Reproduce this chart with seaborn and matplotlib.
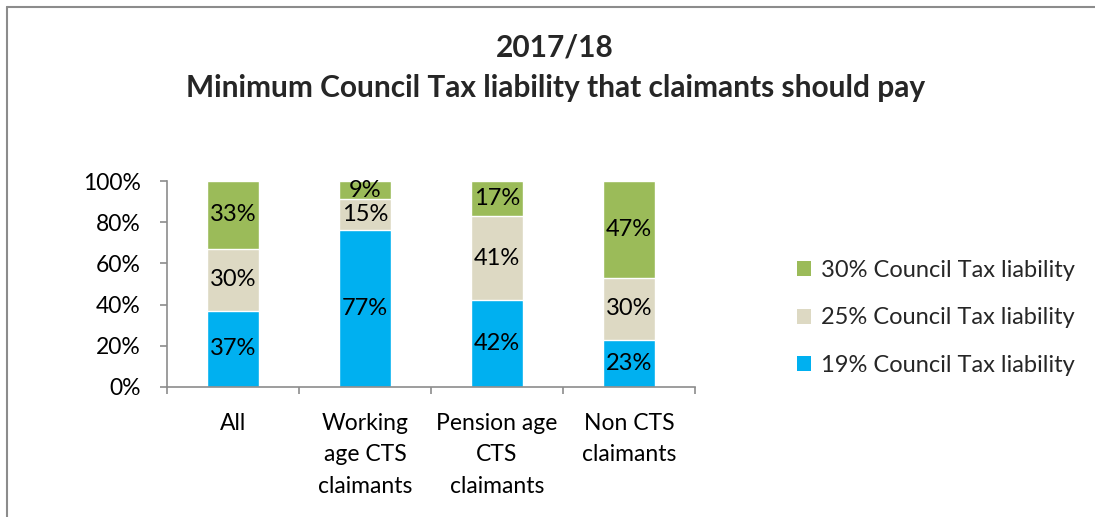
import numpy as np
import pandas as pd
import matplotlib
matplotlib.use("Agg")
import matplotlib.pyplot as plt
from matplotlib.patches import Patch
from matplotlib.lines import Line2D
import seaborn as sns

categories = ["All", "Working\nage CTS\nclaimants", "Pension age\nCTS\nclaimants", "Non CTS\nclaimants"]
liab_19 = [37, 77, 42, 23]
liab_25 = [30, 15, 41, 30]
liab_30 = [33, 9, 17, 47]
series_names = ["19% Council Tax liability", "25% Council Tax liability", "30% Council Tax liability"]
yticks = [0, 0.2, 0.4, 0.6, 0.8, 1.0]
ytick_labels = ["0%", "20%", "40%", "60%", "80%", "100%"]

c_blue = "#00B0F0"
c_beige = "#DDD9C3"
c_green = "#9BBB59"
grey = "#8C8C8C"

sns.set_theme(style="white")
plt.rcParams["font.family"] = ["Lato", "DejaVu Sans"]

# 100% stacked: shares of each column total
tot = np.array(liab_19) + np.array(liab_25) + np.array(liab_30)
s19 = np.array(liab_19) / tot
s25 = np.array(liab_25) / tot
s30 = np.array(liab_30) / tot

df = pd.DataFrame({
    "cat": categories,
    "c1": s19,
    "c2": s19 + s25,
    "c3": s19 + s25 + s30,
})

fig = plt.figure(figsize=(10.95, 5.17), dpi=100)
ax = fig.add_axes([0.1525, 0.2515, 0.4822, 0.3984])

# draw cumulative totals from the top down
sns.barplot(data=df, x="cat", y="c3", color=c_green, width=0.39, saturation=1, ax=ax)
sns.barplot(data=df, x="cat", y="c2", color=c_beige, width=0.39, saturation=1, ax=ax)
sns.barplot(data=df, x="cat", y="c1", color=c_blue, width=0.39, saturation=1, ax=ax)

# segment labels
for i in range(len(categories)):
    mids = [s19[i] / 2, s19[i] + s25[i] / 2, s19[i] + s25[i] + s30[i] / 2]
    vals = [liab_19[i], liab_25[i], liab_30[i]]
    for m, v in zip(mids, vals):
        ax.text(i, m, f"{v}%", ha="center", va="center", fontsize=17, color="black")

ax.set_xlim(-0.5, len(categories) - 0.5)
ax.set_ylim(0, 1)
ax.set_yticks(yticks)
ax.set_yticklabels(ytick_labels)
ax.set_xlabel("")
ax.set_ylabel("")

for s in ["top", "right"]:
    ax.spines[s].set_visible(False)
for s in ["left", "bottom"]:
    ax.spines[s].set_color(grey)
    ax.spines[s].set_linewidth(1.2)

ax.tick_params(axis="y", which="major", direction="out", length=5, width=1.2,
               color=grey, left=True, pad=14, labelsize=16.5, labelcolor="black")
ax.set_xticks(range(len(categories)))
ax.set_xticklabels(categories, linespacing=1.63)
ax.tick_params(axis="x", which="major", length=0, pad=18.5, labelsize=16.5, labelcolor="black")
ax.set_xticks(np.arange(-0.5, len(categories)), minor=True)
ax.tick_params(axis="x", which="minor", direction="out", length=5, width=1.2,
               color=grey, bottom=True)

# title
fig.text(0.507, 0.908, "2017/18", ha="center", va="center",
         fontsize=21.5, fontweight="bold")
fig.text(0.507, 0.829, "Minimum Council Tax liability that claimants should pay",
         ha="center", va="center", fontsize=21.5, fontweight="bold")

# legend
handles = [Patch(facecolor=c, edgecolor="none") for c in [c_green, c_beige, c_blue]]
fig.legend(handles, series_names[::-1], loc="center left",
           bbox_to_anchor=(0.708, 0.385), frameon=False, fontsize=17,
           handlelength=0.6, handleheight=0.6, handletextpad=0.45,
           labelspacing=1.12)

# chart border
fig.add_artist(Line2D([6.5 / 1095, 6.5 / 1095], [0, 1 - 7 / 517],
                      transform=fig.transFigure, color=grey, linewidth=1.5))
fig.add_artist(Line2D([6.5 / 1095, 1], [1 - 7 / 517, 1 - 7 / 517],
                      transform=fig.transFigure, color=grey, linewidth=1.5))

fig.savefig("out.png", dpi=100)
